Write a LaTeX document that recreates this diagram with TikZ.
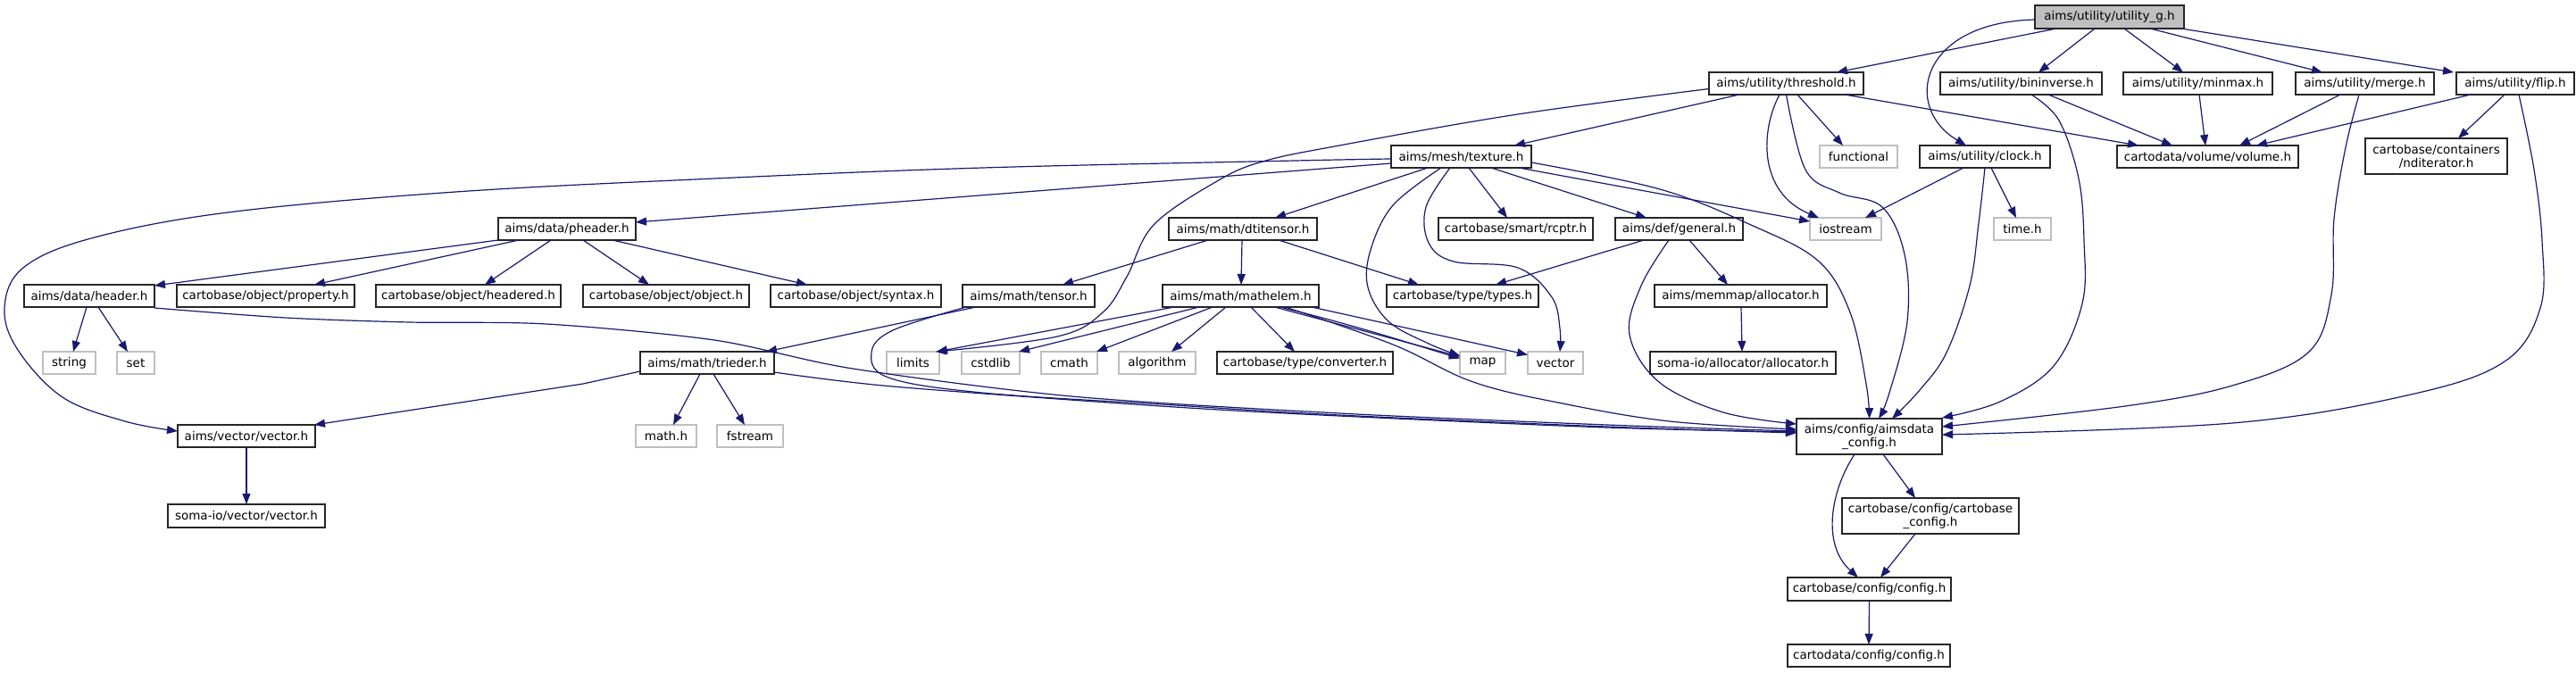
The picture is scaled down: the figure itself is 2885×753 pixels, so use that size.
\documentclass[tikz,border=0pt]{standalone}
\usepackage{fontspec}
\setmainfont{DejaVu Sans}
\usetikzlibrary{arrows.meta}
\definecolor{edgec}{HTML}{191970}
\definecolor{sysc}{HTML}{BFBFBF}
\begin{document}
\begin{tikzpicture}[x=1pt,y=-1pt,
 box/.style={draw=black!85, line width=1.6pt, inner sep=0pt, outer sep=0pt, minimum height=25pt, font=\fontsize{13.5}{15}\selectfont, align=center},
 sys/.style={box, draw=sysc},
 root/.style={box, fill=sysc, minimum height=26pt},
 two/.style={minimum height=40pt},
 e/.style={draw=edgec, line width=1.2pt, -{Triangle[length=12pt,width=9pt]}},
]
\useasboundingbox (0,0) rectangle (2885,753);
% nodes
\node[root, minimum width=167pt] (ug) at (2362.5,19) {aims/utility/utility\_g.h};
\node[box, minimum width=173pt] (thr) at (2000.5,93.5) {aims/utility/threshold.h};
\node[box, minimum width=181pt] (bin) at (2263.5,93.5) {aims/utility/bininverse.h};
\node[box, minimum width=167pt] (mm) at (2461.5,93.5) {aims/utility/minmax.h};
\node[box, minimum width=155pt] (mrg) at (2648.5,93.5) {aims/utility/merge.h};
\node[box, minimum width=132pt] (flp) at (2817,93.5) {aims/utility/flip.h};
\node[box, minimum width=157pt] (tex) at (1636.5,175.5) {aims/mesh/texture.h};
\node[sys, minimum width=87pt] (fun) at (2081.5,175.5) {functional};
\node[box, minimum width=146pt] (clk) at (2223,175.5) {aims/utility/clock.h};
\node[box, minimum width=203pt] (vol) at (2472.5,175.5) {cartodata/volume/volume.h};
\node[box, two, minimum width=159pt] (ndi) at (2728.5,175) {cartobase/containers\\/nditerator.h};
\node[box, minimum width=154pt] (phd) at (635,256.5) {aims/data/pheader.h};
\node[box, minimum width=166pt] (dtn) at (1392,256.5) {aims/math/dtitensor.h};
\node[box, minimum width=173pt] (rcp) at (1697.5,256.5) {cartobase/smart/rcptr.h};
\node[box, minimum width=143pt] (gen) at (1880.5,256.5) {aims/def/general.h};
\node[sys, minimum width=80pt] (ios) at (2067,256.5) {iostream};
\node[sys, minimum width=64pt] (tim) at (2265,256.5) {time.h};
\node[box, minimum width=146pt] (hdr) at (100,331.5) {aims/data/header.h};
\node[box, minimum width=199pt] (prp) at (297.5,331.5) {cartobase/object/property.h};
\node[box, minimum width=207pt] (hdd) at (524.5,331.5) {cartobase/object/headered.h};
\node[box, minimum width=186pt] (obj) at (746,331.5) {cartobase/object/object.h};
\node[box, minimum width=191pt] (syn) at (958.5,331.5) {cartobase/object/syntax.h};
\node[box, minimum width=148pt] (tns) at (1152,331.5) {aims/math/tensor.h};
\node[box, minimum width=175pt] (mth) at (1389.5,331.5) {aims/math/mathelem.h};
\node[box, minimum width=170pt] (typ) at (1638,331.5) {cartobase/type/types.h};
\node[box, minimum width=193pt] (mma) at (1949.5,331.5) {aims/memmap/allocator.h};
\node[sys, minimum width=59pt] (str) at (77.5,406.5) {string};
\node[sys, minimum width=42pt] (set) at (152,406.5) {set};
\node[box, minimum width=150pt] (tri) at (792,406.5) {aims/math/trieder.h};
\node[sys, minimum width=59pt] (lim) at (1022.5,406.5) {limits};
\node[sys, minimum width=65pt] (csl) at (1109.5,406.5) {cstdlib};
\node[sys, minimum width=63pt] (cmt) at (1197.5,406.5) {cmath};
\node[sys, minimum width=86pt] (alg) at (1296,406.5) {algorithm};
\node[box, minimum width=197pt] (cnv) at (1461.5,406.5) {cartobase/type/converter.h};
\node[sys, minimum width=51pt] (map) at (1660.5,406.5) {map};
\node[sys, minimum width=62pt] (vec) at (1742,406.5) {vector};
\node[box, minimum width=208pt] (sal) at (1952,406.5) {soma-io/allocator/allocator.h};
\node[box, minimum width=154pt] (vac) at (276,488.5) {aims/vector/vector.h};
\node[sys, minimum width=68pt] (mah) at (746,488.5) {math.h};
\node[sys, minimum width=74pt] (fst) at (840,488.5) {fstream};
\node[box, two, minimum width=163pt] (adc) at (2093.5,489) {aims/config/aimsdata\\\_config.h};
\node[box, minimum width=176pt, minimum height=26pt] (svc) at (276,578) {soma-io/vector/vector.h};
\node[box, two, minimum width=198pt] (cbc) at (2162,578) {cartobase/config/cartobase\\\_config.h};
\node[box, minimum width=183pt, minimum height=26pt] (cfg) at (2093.5,660) {cartobase/config/config.h};
\node[box, minimum width=182pt] (cdc) at (2093,734.5) {cartodata/config/config.h};
% edges from utility_g
\draw[e] ([xshift=-59.5pt]ug.south) -- ([xshift=56.5pt]thr.north);
\draw[e] ([xshift=-16.5pt]ug.south) -- ([xshift=19.5pt]bin.north);
\draw[e] ([xshift=16.5pt]ug.south) -- ([xshift=-16.5pt]mm.north);
\draw[e] ([xshift=45.5pt]ug.south) -- ([xshift=-47.5pt]mrg.north);
\draw[e] ([xshift=80.5pt]ug.south) -- ([xshift=-69pt]flp.north);
\draw[e] ([yshift=-3pt]ug.west) .. controls (2150,25) and (2130,120) .. ([xshift=-21pt]clk.north);
% threshold
\draw[e] ([xshift=-52.5pt]thr.south) -- ([xshift=59.5pt]tex.north);
\draw[e] ([xshift=12.5pt]thr.south) -- ([xshift=-17.5pt]fun.north);
\draw[e] ([xshift=65.5pt]thr.south) -- ([xshift=-77.5pt]vol.north);
\draw[e] ([xshift=-7.5pt]thr.south) .. controls (1972,145) and (1968,215) .. ([xshift=-30pt]ios.north);
\draw[e] plot[smooth, tension=0.6] coordinates {(thr.south) (2022,190) (2060,216) (2108,232) (2133,285) (2136,360) (2116,440) ([xshift=10.5pt]adc.north)};
\draw[e] plot[smooth, tension=0.6] coordinates {([yshift=-6pt]thr.west) (1700,128) (1500,163) (1414,181) (1363,203) (1292,252) (1262,310) (1235,350) (1184,377) ([xshift=-4pt]lim.north east)};
% texture
\draw[e] ([yshift=-7.5pt]tex.west) -- ([yshift=7.5pt]phd.east);
\draw[e] plot[smooth, tension=0.6] coordinates {([yshift=-2.5pt]tex.west) (1450,180) (1100,188) (800,200) (510,215) (255,238) (102,267) (26,300) (5,345) (20,392) (70,445) (140,472) ([yshift=5.5pt]vac.west)};
\draw[e] ([xshift=-37.5pt]tex.south) -- ([xshift=36pt]dtn.north);
\draw[e] ([xshift=8.5pt]tex.south) -- ([xshift=-9.5pt]rcp.north);
\draw[e] ([xshift=33.5pt]tex.south) -- ([xshift=-36.5pt]gen.north);
\draw[e] ([xshift=64.5pt]tex.south) -- ([yshift=8.5pt]ios.west);
\draw[e] plot[smooth, tension=0.6] coordinates {([xshift=-22.5pt]tex.south) (1560,230) (1535,280) (1532,322) (1555,360) (1600,385) ([yshift=8pt]map.west)};
\draw[e] plot[smooth, tension=0.6] coordinates {([xshift=-12.5pt]tex.south) (1597,232) (1600,272) (1628,293) (1700,300) (1738,333) (1747,368) ([xshift=5pt]vec.north)};
\draw[e] plot[smooth, tension=0.6] coordinates {([yshift=-6.5pt]tex.east) (1859,212) (1961,252) (2036,292) (2072,350) (2090,430) (adc.north)};
% pheader
\draw[e] ([xshift=-77pt]phd.south) -- ([yshift=-1pt]hdr.north east);
\draw[e] ([xshift=-54pt]phd.south) -- ([xshift=54.5pt]prp.north);
\draw[e] ([xshift=-18pt]phd.south) -- ([xshift=18.5pt]hdd.north);
\draw[e] ([xshift=18pt]phd.south) -- ([xshift=-19pt]obj.north);
\draw[e] ([xshift=51pt]phd.south) -- ([xshift=-54.5pt]syn.north);
% header
\draw[e] ([xshift=-3pt]hdr.south) -- ([xshift=4.5pt]str.north);
\draw[e] ([xshift=10pt]hdr.south) -- ([xshift=-9pt]set.north);
\draw[e] plot[smooth, tension=0.5] coordinates {([yshift=-1pt]hdr.south east) (320,356) (459,361) (612,363) (800,381) (955,413) (1200,444) (1500,463) (1800,476) ([yshift=6pt]adc.west)};
% dtitensor
\draw[e] ([xshift=-39pt]dtn.south) -- ([xshift=38pt]tns.north);
\draw[e] ([xshift=-1pt]dtn.south) -- ([xshift=0.5pt]mth.north);
\draw[e] ([xshift=40pt]dtn.south) -- ([xshift=-49pt]typ.north);
% general
\draw[e] ([xshift=-39.5pt]gen.south) -- ([xshift=37pt]typ.north);
\draw[e] ([xshift=11.5pt]gen.south) -- ([xshift=-14.5pt]mma.north);
\draw[e] plot[smooth, tension=0.6] coordinates {([xshift=-11.5pt]gen.south) (1838,320) (1825,375) (1858,428) (1930,462) ([yshift=14pt]adc.west)};
\draw[e] ([xshift=0.5pt]mma.south) -- ([xshift=-1pt]sal.north);
% clock
\draw[e] ([xshift=-24pt]clk.south) -- ([xshift=22pt]ios.north);
\draw[e] ([xshift=7pt]clk.south) -- ([xshift=-7pt]tim.north);
\draw[e] plot[smooth, tension=0.6] coordinates {(clk.south) (2216,250) (2206,320) (2180,395) (2150,437) ([xshift=25.5pt]adc.north)};
% bininverse, minmax, merge, flip
\draw[e] ([xshift=30.5pt]bin.south) -- ([xshift=-39.5pt]vol.north);
\draw[e] plot[smooth, tension=0.6] coordinates {([xshift=11.5pt]bin.south) (2306,135) (2328,200) (2334,270) (2332,340) (2300,410) (2240,450) ([yshift=21pt]adc.east)};
\draw[e] ([xshift=1.5pt]mm.south) -- ([xshift=-2.5pt]vol.north);
\draw[e] ([xshift=-27.5pt]mrg.south) -- ([xshift=35.5pt]vol.north);
\draw[e] plot[smooth, tension=0.6] coordinates {([xshift=-6.5pt]mrg.south) (2627,165) (2614,245) (2611,330) (2585,395) (2500,432) (2380,455) ([yshift=11pt]adc.east)};
\draw[e] ([xshift=-50pt]flp.south) -- ([xshift=54.5pt]vol.north);
\draw[e] ([xshift=-12pt]flp.south) -- ([xshift=24.5pt]ndi.north);
\draw[e] plot[smooth, tension=0.6] coordinates {([xshift=4pt]flp.south) (2838,190) (2847,270) (2845,345) (2805,405) (2700,442) (2500,474) ([yshift=2pt]adc.east)};
% tensor, trieder
\draw[e] ([xshift=-59pt]tns.south) -- ([xshift=66pt]tri.north);
\draw[e] plot[smooth, tension=0.6] coordinates {([xshift=-70pt]tns.south) (1000,370) (976,395) (995,423) (1100,440) (1300,453) (1500,465) (1800,478) ([yshift=4pt]adc.west)};
\draw[e] ([yshift=3pt]tri.south west) -- (653,430) -- ([xshift=-1pt]vac.north east);
\draw[e] ([xshift=-8pt]tri.south) -- ([xshift=8pt]mah.north);
\draw[e] ([xshift=7pt]tri.south) -- ([xshift=-6pt]fst.north);
\draw[e] plot[smooth, tension=0.5] coordinates {([yshift=-10.5pt]tri.east) (1000,433) (1300,455) (1500,466) (1800,479) ([yshift=5pt]adc.west)};
% mathelem
\draw[e] ([xshift=-74.5pt]mth.south) -- ([xshift=-3pt]lim.north east);
\draw[e] ([xshift=-46.5pt]mth.south) -- ([xshift=-1pt]csl.north east);
\draw[e] ([xshift=-31.5pt]mth.south) -- ([xshift=-1pt]cmt.north east);
\draw[e] ([xshift=-16.5pt]mth.south) -- ([xshift=16pt]alg.north);
\draw[e] ([xshift=11.5pt]mth.south) -- ([xshift=-11.5pt]cnv.north);
\draw[e] ([xshift=38pt]mth.south) -- ([yshift=7pt]map.west);
\draw[e] ([xshift=44pt]mth.south) .. controls (1520,365) and (1580,385) .. ([yshift=5pt]map.west);
\draw[e] ([xshift=-8pt]mth.south east) -- ([yshift=9pt]vec.west);
\draw[e] plot[smooth, tension=0.6] coordinates {([xshift=50pt]mth.south) (1560,386) (1650,428) (1750,452) (1870,472) ([yshift=8pt]adc.west)};
% config chain
\draw[e] ([xshift=15.5pt]adc.south) -- ([xshift=-17pt]cbc.north);
\draw[e] ([xshift=-16.5pt]adc.south) .. controls (2050,550) and (2040,610) .. ([xshift=-12.5pt]cfg.north);
\draw[e] ([xshift=-17pt]cbc.south) -- ([xshift=12.5pt]cfg.north);
\draw[e] (cfg.south) -- (cdc.north);
\draw[e] (vac.south) -- (svc.north);
\end{tikzpicture}
\end{document}
